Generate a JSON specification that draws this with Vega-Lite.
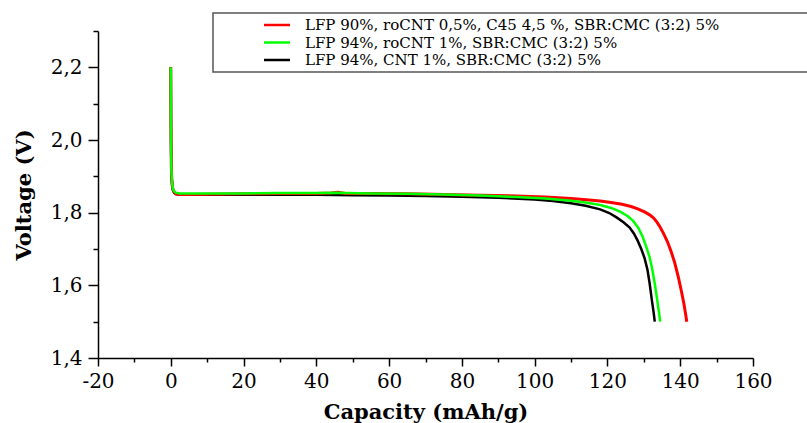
{
  "$schema": "https://vega.github.io/schema/vega-lite/v6.json",
  "width": 655,
  "height": 327,
  "autosize": "none",
  "padding": {"left": 98, "top": 31, "right": 54, "bottom": 65},
  "background": "white",
  "config": {
    "view": {"stroke": null},
    "font": "DejaVu Serif",
    "axis": {
      "domainColor": "black",
      "domainWidth": 1.5,
      "tickColor": "black",
      "tickWidth": 1.5,
      "labelColor": "black",
      "titleColor": "black",
      "labelFont": "DejaVu Serif",
      "titleFont": "DejaVu Serif",
      "labelFontSize": 20,
      "titleFontSize": 21,
      "titleFontWeight": "bold",
      "grid": false
    },
    "legend": {
      "orient": "none",
      "legendX": 115,
      "legendY": -18,
      "strokeColor": "#555555",
      "strokeWidth": 1.5,
      "fillColor": "white",
      "padding": 4,
      "rowPadding": 1.5,
      "symbolType": "M-2,0H2",
      "symbolSize": 169,
      "symbolStrokeWidth": 2.5,
      "symbolOffset": 52,
      "labelOffset": 20,
      "labelFont": "DejaVu Serif",
      "labelFontSize": 15,
      "labelColor": "black",
      "labelLimit": 2000
    }
  },
  "data": {
    "values": [
      {"s": "LFP 90%, roCNT 0,5%, C45 4,5 %, SBR:CMC (3:2) 5%", "c": 0, "v": 2.2},
      {"s": "LFP 90%, roCNT 0,5%, C45 4,5 %, SBR:CMC (3:2) 5%", "c": 0.03, "v": 2.1},
      {"s": "LFP 90%, roCNT 0,5%, C45 4,5 %, SBR:CMC (3:2) 5%", "c": 0.08, "v": 2.0},
      {"s": "LFP 90%, roCNT 0,5%, C45 4,5 %, SBR:CMC (3:2) 5%", "c": 0.15, "v": 1.93},
      {"s": "LFP 90%, roCNT 0,5%, C45 4,5 %, SBR:CMC (3:2) 5%", "c": 0.25, "v": 1.895},
      {"s": "LFP 90%, roCNT 0,5%, C45 4,5 %, SBR:CMC (3:2) 5%", "c": 0.4, "v": 1.875},
      {"s": "LFP 90%, roCNT 0,5%, C45 4,5 %, SBR:CMC (3:2) 5%", "c": 0.6, "v": 1.864},
      {"s": "LFP 90%, roCNT 0,5%, C45 4,5 %, SBR:CMC (3:2) 5%", "c": 0.9, "v": 1.857},
      {"s": "LFP 90%, roCNT 0,5%, C45 4,5 %, SBR:CMC (3:2) 5%", "c": 1.4, "v": 1.852},
      {"s": "LFP 90%, roCNT 0,5%, C45 4,5 %, SBR:CMC (3:2) 5%", "c": 2.5, "v": 1.85},
      {"s": "LFP 90%, roCNT 0,5%, C45 4,5 %, SBR:CMC (3:2) 5%", "c": 5, "v": 1.85},
      {"s": "LFP 90%, roCNT 0,5%, C45 4,5 %, SBR:CMC (3:2) 5%", "c": 10, "v": 1.851},
      {"s": "LFP 90%, roCNT 0,5%, C45 4,5 %, SBR:CMC (3:2) 5%", "c": 20, "v": 1.852},
      {"s": "LFP 90%, roCNT 0,5%, C45 4,5 %, SBR:CMC (3:2) 5%", "c": 30, "v": 1.853},
      {"s": "LFP 90%, roCNT 0,5%, C45 4,5 %, SBR:CMC (3:2) 5%", "c": 40, "v": 1.853},
      {"s": "LFP 90%, roCNT 0,5%, C45 4,5 %, SBR:CMC (3:2) 5%", "c": 44, "v": 1.854},
      {"s": "LFP 90%, roCNT 0,5%, C45 4,5 %, SBR:CMC (3:2) 5%", "c": 46, "v": 1.856},
      {"s": "LFP 90%, roCNT 0,5%, C45 4,5 %, SBR:CMC (3:2) 5%", "c": 48, "v": 1.853},
      {"s": "LFP 90%, roCNT 0,5%, C45 4,5 %, SBR:CMC (3:2) 5%", "c": 55, "v": 1.853},
      {"s": "LFP 90%, roCNT 0,5%, C45 4,5 %, SBR:CMC (3:2) 5%", "c": 65, "v": 1.852},
      {"s": "LFP 90%, roCNT 0,5%, C45 4,5 %, SBR:CMC (3:2) 5%", "c": 75, "v": 1.85},
      {"s": "LFP 90%, roCNT 0,5%, C45 4,5 %, SBR:CMC (3:2) 5%", "c": 85, "v": 1.848},
      {"s": "LFP 90%, roCNT 0,5%, C45 4,5 %, SBR:CMC (3:2) 5%", "c": 95, "v": 1.846},
      {"s": "LFP 90%, roCNT 0,5%, C45 4,5 %, SBR:CMC (3:2) 5%", "c": 103, "v": 1.843},
      {"s": "LFP 90%, roCNT 0,5%, C45 4,5 %, SBR:CMC (3:2) 5%", "c": 110, "v": 1.839},
      {"s": "LFP 90%, roCNT 0,5%, C45 4,5 %, SBR:CMC (3:2) 5%", "c": 115, "v": 1.835},
      {"s": "LFP 90%, roCNT 0,5%, C45 4,5 %, SBR:CMC (3:2) 5%", "c": 118, "v": 1.832},
      {"s": "LFP 90%, roCNT 0,5%, C45 4,5 %, SBR:CMC (3:2) 5%", "c": 121, "v": 1.828},
      {"s": "LFP 90%, roCNT 0,5%, C45 4,5 %, SBR:CMC (3:2) 5%", "c": 124, "v": 1.823},
      {"s": "LFP 90%, roCNT 0,5%, C45 4,5 %, SBR:CMC (3:2) 5%", "c": 126.5, "v": 1.817},
      {"s": "LFP 90%, roCNT 0,5%, C45 4,5 %, SBR:CMC (3:2) 5%", "c": 128.5, "v": 1.81},
      {"s": "LFP 90%, roCNT 0,5%, C45 4,5 %, SBR:CMC (3:2) 5%", "c": 130.2, "v": 1.802},
      {"s": "LFP 90%, roCNT 0,5%, C45 4,5 %, SBR:CMC (3:2) 5%", "c": 131.6, "v": 1.794},
      {"s": "LFP 90%, roCNT 0,5%, C45 4,5 %, SBR:CMC (3:2) 5%", "c": 132.7, "v": 1.785},
      {"s": "LFP 90%, roCNT 0,5%, C45 4,5 %, SBR:CMC (3:2) 5%", "c": 133.6, "v": 1.774},
      {"s": "LFP 90%, roCNT 0,5%, C45 4,5 %, SBR:CMC (3:2) 5%", "c": 134.5, "v": 1.76},
      {"s": "LFP 90%, roCNT 0,5%, C45 4,5 %, SBR:CMC (3:2) 5%", "c": 135.5, "v": 1.741},
      {"s": "LFP 90%, roCNT 0,5%, C45 4,5 %, SBR:CMC (3:2) 5%", "c": 136.5, "v": 1.72},
      {"s": "LFP 90%, roCNT 0,5%, C45 4,5 %, SBR:CMC (3:2) 5%", "c": 137.5, "v": 1.693},
      {"s": "LFP 90%, roCNT 0,5%, C45 4,5 %, SBR:CMC (3:2) 5%", "c": 138.5, "v": 1.662},
      {"s": "LFP 90%, roCNT 0,5%, C45 4,5 %, SBR:CMC (3:2) 5%", "c": 139.5, "v": 1.622},
      {"s": "LFP 90%, roCNT 0,5%, C45 4,5 %, SBR:CMC (3:2) 5%", "c": 140.3, "v": 1.585},
      {"s": "LFP 90%, roCNT 0,5%, C45 4,5 %, SBR:CMC (3:2) 5%", "c": 141, "v": 1.55},
      {"s": "LFP 90%, roCNT 0,5%, C45 4,5 %, SBR:CMC (3:2) 5%", "c": 141.5, "v": 1.52},
      {"s": "LFP 90%, roCNT 0,5%, C45 4,5 %, SBR:CMC (3:2) 5%", "c": 141.8, "v": 1.5},

      {"s": "LFP 94%, roCNT 1%, SBR:CMC (3:2) 5%", "c": 0, "v": 2.2},
      {"s": "LFP 94%, roCNT 1%, SBR:CMC (3:2) 5%", "c": 0.03, "v": 2.1},
      {"s": "LFP 94%, roCNT 1%, SBR:CMC (3:2) 5%", "c": 0.08, "v": 2.0},
      {"s": "LFP 94%, roCNT 1%, SBR:CMC (3:2) 5%", "c": 0.15, "v": 1.93},
      {"s": "LFP 94%, roCNT 1%, SBR:CMC (3:2) 5%", "c": 0.25, "v": 1.9},
      {"s": "LFP 94%, roCNT 1%, SBR:CMC (3:2) 5%", "c": 0.4, "v": 1.878},
      {"s": "LFP 94%, roCNT 1%, SBR:CMC (3:2) 5%", "c": 0.6, "v": 1.866},
      {"s": "LFP 94%, roCNT 1%, SBR:CMC (3:2) 5%", "c": 0.9, "v": 1.859},
      {"s": "LFP 94%, roCNT 1%, SBR:CMC (3:2) 5%", "c": 1.4, "v": 1.855},
      {"s": "LFP 94%, roCNT 1%, SBR:CMC (3:2) 5%", "c": 2.5, "v": 1.853},
      {"s": "LFP 94%, roCNT 1%, SBR:CMC (3:2) 5%", "c": 10, "v": 1.853},
      {"s": "LFP 94%, roCNT 1%, SBR:CMC (3:2) 5%", "c": 20, "v": 1.853},
      {"s": "LFP 94%, roCNT 1%, SBR:CMC (3:2) 5%", "c": 30, "v": 1.854},
      {"s": "LFP 94%, roCNT 1%, SBR:CMC (3:2) 5%", "c": 40, "v": 1.854},
      {"s": "LFP 94%, roCNT 1%, SBR:CMC (3:2) 5%", "c": 45, "v": 1.855},
      {"s": "LFP 94%, roCNT 1%, SBR:CMC (3:2) 5%", "c": 55, "v": 1.853},
      {"s": "LFP 94%, roCNT 1%, SBR:CMC (3:2) 5%", "c": 65, "v": 1.852},
      {"s": "LFP 94%, roCNT 1%, SBR:CMC (3:2) 5%", "c": 75, "v": 1.85},
      {"s": "LFP 94%, roCNT 1%, SBR:CMC (3:2) 5%", "c": 85, "v": 1.847},
      {"s": "LFP 94%, roCNT 1%, SBR:CMC (3:2) 5%", "c": 95, "v": 1.843},
      {"s": "LFP 94%, roCNT 1%, SBR:CMC (3:2) 5%", "c": 103, "v": 1.839},
      {"s": "LFP 94%, roCNT 1%, SBR:CMC (3:2) 5%", "c": 110, "v": 1.833},
      {"s": "LFP 94%, roCNT 1%, SBR:CMC (3:2) 5%", "c": 114, "v": 1.828},
      {"s": "LFP 94%, roCNT 1%, SBR:CMC (3:2) 5%", "c": 118, "v": 1.821},
      {"s": "LFP 94%, roCNT 1%, SBR:CMC (3:2) 5%", "c": 121, "v": 1.813},
      {"s": "LFP 94%, roCNT 1%, SBR:CMC (3:2) 5%", "c": 123.5, "v": 1.803},
      {"s": "LFP 94%, roCNT 1%, SBR:CMC (3:2) 5%", "c": 125.5, "v": 1.791},
      {"s": "LFP 94%, roCNT 1%, SBR:CMC (3:2) 5%", "c": 127, "v": 1.778},
      {"s": "LFP 94%, roCNT 1%, SBR:CMC (3:2) 5%", "c": 128.5, "v": 1.758},
      {"s": "LFP 94%, roCNT 1%, SBR:CMC (3:2) 5%", "c": 129.7, "v": 1.733},
      {"s": "LFP 94%, roCNT 1%, SBR:CMC (3:2) 5%", "c": 130.7, "v": 1.705},
      {"s": "LFP 94%, roCNT 1%, SBR:CMC (3:2) 5%", "c": 131.6, "v": 1.677},
      {"s": "LFP 94%, roCNT 1%, SBR:CMC (3:2) 5%", "c": 132.3, "v": 1.645},
      {"s": "LFP 94%, roCNT 1%, SBR:CMC (3:2) 5%", "c": 133, "v": 1.605},
      {"s": "LFP 94%, roCNT 1%, SBR:CMC (3:2) 5%", "c": 133.6, "v": 1.565},
      {"s": "LFP 94%, roCNT 1%, SBR:CMC (3:2) 5%", "c": 134.1, "v": 1.53},
      {"s": "LFP 94%, roCNT 1%, SBR:CMC (3:2) 5%", "c": 134.5, "v": 1.5},

      {"s": "LFP 94%, CNT 1%, SBR:CMC (3:2) 5%", "c": 0, "v": 2.2},
      {"s": "LFP 94%, CNT 1%, SBR:CMC (3:2) 5%", "c": 0.03, "v": 2.1},
      {"s": "LFP 94%, CNT 1%, SBR:CMC (3:2) 5%", "c": 0.08, "v": 2.0},
      {"s": "LFP 94%, CNT 1%, SBR:CMC (3:2) 5%", "c": 0.15, "v": 1.93},
      {"s": "LFP 94%, CNT 1%, SBR:CMC (3:2) 5%", "c": 0.25, "v": 1.895},
      {"s": "LFP 94%, CNT 1%, SBR:CMC (3:2) 5%", "c": 0.4, "v": 1.873},
      {"s": "LFP 94%, CNT 1%, SBR:CMC (3:2) 5%", "c": 0.6, "v": 1.862},
      {"s": "LFP 94%, CNT 1%, SBR:CMC (3:2) 5%", "c": 0.9, "v": 1.855},
      {"s": "LFP 94%, CNT 1%, SBR:CMC (3:2) 5%", "c": 1.4, "v": 1.851},
      {"s": "LFP 94%, CNT 1%, SBR:CMC (3:2) 5%", "c": 2.5, "v": 1.849},
      {"s": "LFP 94%, CNT 1%, SBR:CMC (3:2) 5%", "c": 10, "v": 1.849},
      {"s": "LFP 94%, CNT 1%, SBR:CMC (3:2) 5%", "c": 20, "v": 1.849},
      {"s": "LFP 94%, CNT 1%, SBR:CMC (3:2) 5%", "c": 30, "v": 1.849},
      {"s": "LFP 94%, CNT 1%, SBR:CMC (3:2) 5%", "c": 40, "v": 1.849},
      {"s": "LFP 94%, CNT 1%, SBR:CMC (3:2) 5%", "c": 50, "v": 1.848},
      {"s": "LFP 94%, CNT 1%, SBR:CMC (3:2) 5%", "c": 60, "v": 1.847},
      {"s": "LFP 94%, CNT 1%, SBR:CMC (3:2) 5%", "c": 70, "v": 1.846},
      {"s": "LFP 94%, CNT 1%, SBR:CMC (3:2) 5%", "c": 80, "v": 1.844},
      {"s": "LFP 94%, CNT 1%, SBR:CMC (3:2) 5%", "c": 90, "v": 1.841},
      {"s": "LFP 94%, CNT 1%, SBR:CMC (3:2) 5%", "c": 100, "v": 1.836},
      {"s": "LFP 94%, CNT 1%, SBR:CMC (3:2) 5%", "c": 105, "v": 1.832},
      {"s": "LFP 94%, CNT 1%, SBR:CMC (3:2) 5%", "c": 110, "v": 1.826},
      {"s": "LFP 94%, CNT 1%, SBR:CMC (3:2) 5%", "c": 114, "v": 1.819},
      {"s": "LFP 94%, CNT 1%, SBR:CMC (3:2) 5%", "c": 118, "v": 1.809},
      {"s": "LFP 94%, CNT 1%, SBR:CMC (3:2) 5%", "c": 120.5, "v": 1.799},
      {"s": "LFP 94%, CNT 1%, SBR:CMC (3:2) 5%", "c": 122.5, "v": 1.787},
      {"s": "LFP 94%, CNT 1%, SBR:CMC (3:2) 5%", "c": 124.5, "v": 1.773},
      {"s": "LFP 94%, CNT 1%, SBR:CMC (3:2) 5%", "c": 126.1, "v": 1.759},
      {"s": "LFP 94%, CNT 1%, SBR:CMC (3:2) 5%", "c": 127.3, "v": 1.742},
      {"s": "LFP 94%, CNT 1%, SBR:CMC (3:2) 5%", "c": 128.3, "v": 1.723},
      {"s": "LFP 94%, CNT 1%, SBR:CMC (3:2) 5%", "c": 129.3, "v": 1.7},
      {"s": "LFP 94%, CNT 1%, SBR:CMC (3:2) 5%", "c": 130.2, "v": 1.675},
      {"s": "LFP 94%, CNT 1%, SBR:CMC (3:2) 5%", "c": 131, "v": 1.643},
      {"s": "LFP 94%, CNT 1%, SBR:CMC (3:2) 5%", "c": 131.6, "v": 1.605},
      {"s": "LFP 94%, CNT 1%, SBR:CMC (3:2) 5%", "c": 132.2, "v": 1.56},
      {"s": "LFP 94%, CNT 1%, SBR:CMC (3:2) 5%", "c": 132.7, "v": 1.525},
      {"s": "LFP 94%, CNT 1%, SBR:CMC (3:2) 5%", "c": 133, "v": 1.5}
    ]
  },
  "layer": [
    {
      "transform": [{"filter": "datum.s == 'LFP 94%, CNT 1%, SBR:CMC (3:2) 5%'"}],
      "mark": {"type": "line", "strokeWidth": 2.5},
      "encoding": {
        "x": {"field": "c", "type": "quantitative", "scale": {"domain": [-20, 160], "nice": false, "zero": false}, "axis": null},
        "y": {"field": "v", "type": "quantitative", "scale": {"domain": [1.4, 2.3], "nice": false, "zero": false}, "axis": null},
        "color": {"field": "s", "type": "nominal", "title": null,
          "scale": {"domain": ["LFP 90%, roCNT 0,5%, C45 4,5 %, SBR:CMC (3:2) 5%", "LFP 94%, roCNT 1%, SBR:CMC (3:2) 5%", "LFP 94%, CNT 1%, SBR:CMC (3:2) 5%"], "range": ["#ff0000", "#00ff00", "#000000"]},
          "legend": {"labelExpr": "datum.label + '\u2003\u2003\u2003\u2003\u2003\u2002\u2009\u200b'"}}
      }
    },
    {
      "transform": [{"filter": "datum.s == 'LFP 90%, roCNT 0,5%, C45 4,5 %, SBR:CMC (3:2) 5%'"}],
      "mark": {"type": "line", "strokeWidth": 3},
      "encoding": {
        "x": {"field": "c", "type": "quantitative", "scale": {"domain": [-20, 160], "nice": false, "zero": false}, "axis": null},
        "y": {"field": "v", "type": "quantitative", "scale": {"domain": [1.4, 2.3], "nice": false, "zero": false}, "axis": null},
        "color": {"field": "s", "type": "nominal", "title": null,
          "scale": {"domain": ["LFP 90%, roCNT 0,5%, C45 4,5 %, SBR:CMC (3:2) 5%", "LFP 94%, roCNT 1%, SBR:CMC (3:2) 5%", "LFP 94%, CNT 1%, SBR:CMC (3:2) 5%"], "range": ["#ff0000", "#00ff00", "#000000"]},
          "legend": {"labelExpr": "datum.label + '\u2003\u2003\u2003\u2003\u2003\u2002\u2009\u200b'"}}
      }
    },
    {
      "transform": [{"filter": "datum.s == 'LFP 94%, roCNT 1%, SBR:CMC (3:2) 5%'"}],
      "mark": {"type": "line", "strokeWidth": 2.5},
      "encoding": {
        "x": {"field": "c", "type": "quantitative", "scale": {"domain": [-20, 160], "nice": false, "zero": false},
          "axis": {"orient": "bottom", "title": "Capacity (mAh/g)", "values": [-20, 0, 20, 40, 60, 80, 100, 120, 140, 160], "tickSize": 8, "labelPadding": 5, "titlePadding": 10, "labelExpr": "'' + datum.value", "labelFlush": false, "labelOverlap": false}},
        "y": {"field": "v", "type": "quantitative", "scale": {"domain": [1.4, 2.3], "nice": false, "zero": false},
          "axis": {"orient": "left", "title": "Voltage (V)", "values": [1.4, 1.6, 1.8, 2.0, 2.2], "tickSize": 10, "labelPadding": 6, "titlePadding": 16, "labelExpr": "replace(format(datum.value, '.1f'), '.', ',')", "labelFlush": false, "labelOverlap": false}},
        "color": {"field": "s", "type": "nominal", "title": null,
          "scale": {"domain": ["LFP 90%, roCNT 0,5%, C45 4,5 %, SBR:CMC (3:2) 5%", "LFP 94%, roCNT 1%, SBR:CMC (3:2) 5%", "LFP 94%, CNT 1%, SBR:CMC (3:2) 5%"], "range": ["#ff0000", "#00ff00", "#000000"]},
          "legend": {"labelExpr": "datum.label + '\u2003\u2003\u2003\u2003\u2003\u2002\u2009\u200b'"}}
      }
    },
    {
      "mark": {"type": "point", "opacity": 0},
      "encoding": {
        "x": {"field": "c", "type": "quantitative", "scale": {"domain": [-20, 160], "nice": false, "zero": false},
          "axis": {"orient": "bottom", "title": null, "values": [-10, 10, 30, 50, 70, 90, 110, 130, 150], "tickSize": 4, "labels": false, "domain": false}},
        "y": {"field": "v", "type": "quantitative", "scale": {"domain": [1.4, 2.3], "nice": false, "zero": false},
          "axis": {"orient": "left", "title": null, "values": [1.5, 1.7, 1.9, 2.1, 2.3], "tickSize": 5, "labels": false, "domain": false}}
      }
    }
  ],
  "resolve": {"axis": {"x": "independent", "y": "independent"}}
}
